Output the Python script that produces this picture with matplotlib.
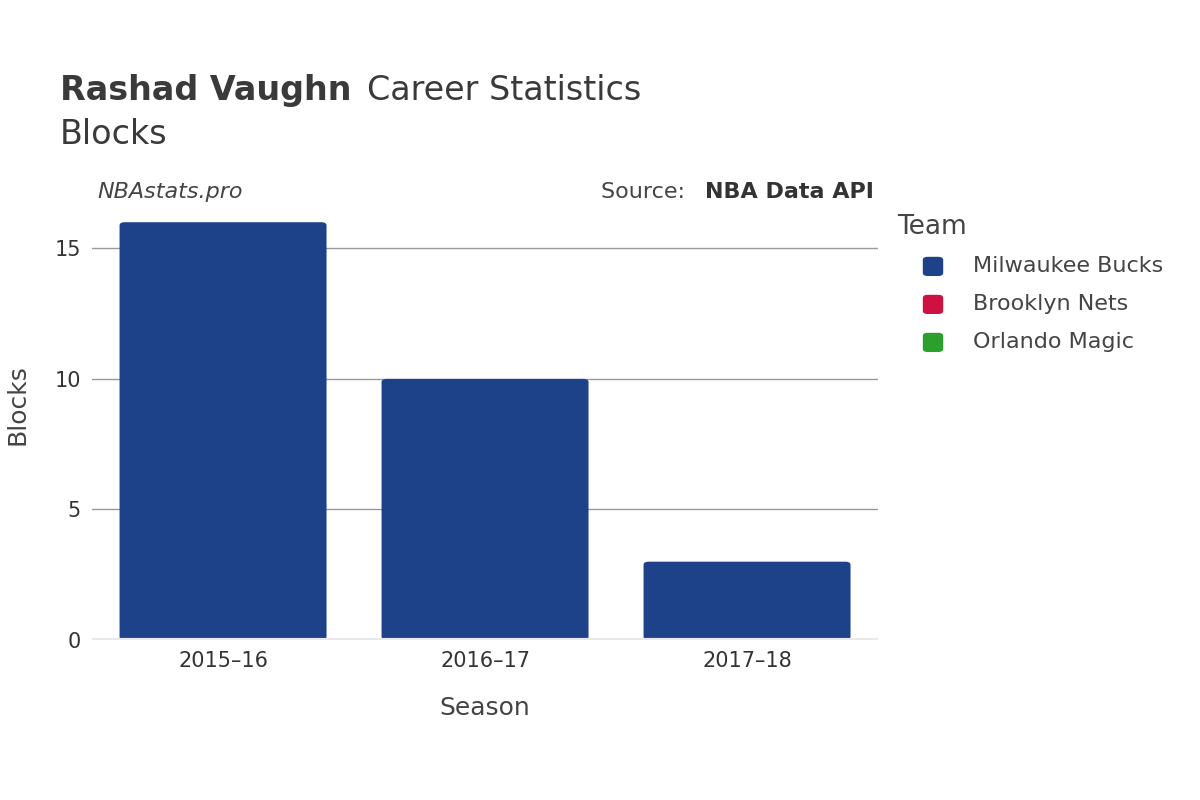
import matplotlib
matplotlib.use("Agg")
import matplotlib.pyplot as plt
from matplotlib.patches import FancyBboxPatch

seasons = ["2015–16", "2016–17", "2017–18"]
teams = ["Milwaukee Bucks", "Brooklyn Nets", "Orlando Magic"]
team_colors = ["#1d428a", "#ce1141", "#2ca02c"]
bucks_blocks = [16, 10, 3]
nets_blocks = [0, 0, 0]
magic_blocks = [0, 0, 0]
yticks = [0, 5, 10, 15]

fig = plt.figure(figsize=(12, 8), dpi=100)
ax = fig.add_axes([0.0767, 0.2, 0.655, 0.5875])
x = list(range(len(seasons)))
w = 0.79
ax.set_xlim(-0.5, 2.5)
ax.set_ylim(0, 18)
for xi, v in zip(x, bucks_blocks):
    p = FancyBboxPatch((xi - w / 2, 0), w, v, boxstyle="round,pad=0,rounding_size=0.02",
                       mutation_aspect=6, facecolor=team_colors[0], edgecolor="none", zorder=3)
    ax.add_patch(p)
ax.set_yticks(yticks)
ax.set_xticks(x)
ax.set_xticklabels(seasons)
ax.grid(axis="y", color="#999999", linewidth=1, zorder=0)
ax.axhline(0, color="#e8e8ee", linewidth=3, zorder=4)
for s in ax.spines.values():
    s.set_visible(False)
ax.tick_params(length=0, labelsize=15, colors="#333333", pad=8)
ax.set_xlabel("Season", fontsize=18, color="#444444", labelpad=18)
ax.set_ylabel("Blocks", fontsize=18, color="#444444", labelpad=18)

fig.text(0.05, 0.875, "Rashad Vaughn", fontsize=24, fontweight="bold", color="#3a3a3a")
fig.text(0.306, 0.875, "Career Statistics", fontsize=24, color="#3a3a3a")
fig.text(0.05, 0.82, "Blocks", fontsize=24, color="#3a3a3a")
fig.text(0.081, 0.752, "NBAstats.pro", fontsize=16, style="italic", color="#444444")
fig.text(0.728, 0.752, "Source: ", fontsize=16, color="#444444", ha="right")
fig.text(0.728, 0.752, "NBA Data API", fontsize=16, fontweight="bold", color="#333333", ha="right")
# fix source layout: put "Source:" before bold part
fig.texts[-2].set_position((0.577, 0.752)); fig.texts[-2].set_ha("right")

fig.text(0.748, 0.708, "Team", fontsize=19, color="#444444")
for i, (t, c) in enumerate(zip(teams, team_colors)):
    y = 0.667 - i * 0.0475
    fig.patches.append(FancyBboxPatch((0.769, y - 0.012), 0.017, 0.024,
                                      boxstyle="round,pad=0,rounding_size=0.004",
                                      transform=fig.transFigure, facecolor=c, edgecolor="none"))
    fig.text(0.811, y, t, fontsize=16, color="#444444", va="center")

fig.savefig("out.png", dpi=100)
